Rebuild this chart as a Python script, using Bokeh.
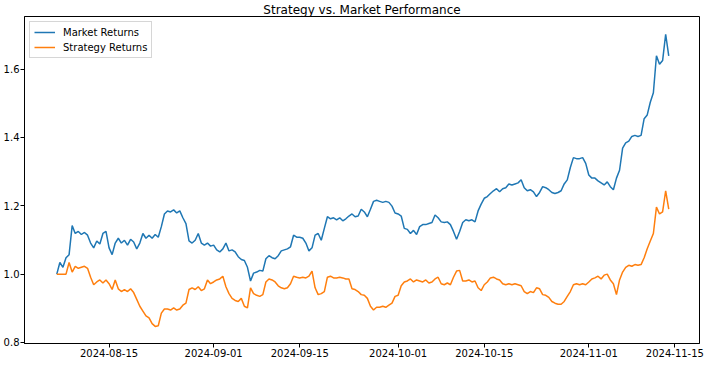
import pandas as pd
from bokeh.plotting import figure
from bokeh.models import (Range1d, FixedTicker, DatetimeTickFormatter, NumeralTickFormatter,
                          Legend, LegendItem, ColumnDataSource)
from bokeh.embed import file_html
from bokeh.resources import INLINE

# ---- data (12-hour samples) ----
start_time = "2024-08-06 12:00"
step = "12h"

market = [
    1.000, 1.034, 1.020, 1.048, 1.057, 1.142, 1.119, 1.125, 1.116, 1.122,
    1.114, 1.091, 1.077, 1.097, 1.088, 1.119, 1.125, 1.077, 1.057, 1.091,
    1.105, 1.091, 1.099, 1.085, 1.102, 1.094, 1.074, 1.091, 1.119, 1.105,
    1.114, 1.105, 1.116, 1.108, 1.139, 1.176, 1.185, 1.182, 1.188, 1.179,
    1.185, 1.165, 1.148, 1.097, 1.091, 1.099, 1.119, 1.091, 1.085, 1.091,
    1.082, 1.085, 1.071, 1.065, 1.074, 1.091, 1.068, 1.071, 1.065, 1.051,
    1.043, 1.040, 1.020, 0.980, 1.003, 1.006, 1.011, 1.009, 1.045, 1.054,
    1.048, 1.045, 1.054, 1.068, 1.071, 1.074, 1.080, 1.114, 1.108, 1.108,
    1.105, 1.091, 1.068, 1.077, 1.114, 1.119, 1.099, 1.134, 1.168, 1.162,
    1.165, 1.159, 1.165, 1.156, 1.162, 1.170, 1.176, 1.168, 1.170, 1.190,
    1.182, 1.168, 1.190, 1.213, 1.216, 1.213, 1.210, 1.213, 1.210, 1.199,
    1.179, 1.176, 1.170, 1.134, 1.131, 1.119, 1.128, 1.116, 1.139, 1.145,
    1.145, 1.148, 1.151, 1.173, 1.165, 1.153, 1.151, 1.153, 1.145, 1.125,
    1.102, 1.125, 1.151, 1.159, 1.156, 1.159, 1.153, 1.185, 1.205, 1.222,
    1.227, 1.236, 1.244, 1.250, 1.241, 1.250, 1.253, 1.264, 1.261, 1.264,
    1.267, 1.276, 1.253, 1.244, 1.247, 1.241, 1.227, 1.239, 1.256, 1.253,
    1.247, 1.239, 1.236, 1.239, 1.244, 1.264, 1.276, 1.312, 1.341, 1.338,
    1.338, 1.341, 1.324, 1.290, 1.281, 1.281, 1.273, 1.267, 1.261, 1.270,
    1.256, 1.247, 1.281, 1.304, 1.369, 1.384, 1.389, 1.403, 1.406, 1.403,
    1.406, 1.455, 1.466, 1.503, 1.531, 1.639, 1.614, 1.625, 1.702, 1.639,
]

strategy = [
    1.000, 1.000, 1.000, 1.000, 1.034, 1.006, 1.023, 1.017, 1.020, 1.023,
    1.017, 0.991, 0.969, 0.977, 0.983, 0.974, 0.983, 0.972, 0.955, 0.983,
    0.957, 0.949, 0.955, 0.949, 0.957, 0.946, 0.926, 0.906, 0.892, 0.878,
    0.872, 0.855, 0.847, 0.849, 0.886, 0.898, 0.898, 0.895, 0.901, 0.895,
    0.898, 0.909, 0.915, 0.955, 0.960, 0.955, 0.963, 0.952, 0.957, 0.983,
    0.972, 0.977, 0.983, 0.986, 0.994, 0.963, 0.943, 0.929, 0.923, 0.920,
    0.929, 0.906, 0.901, 0.960, 0.943, 0.938, 0.935, 0.940, 0.977, 0.986,
    0.983, 0.977, 0.966, 0.960, 0.957, 0.960, 0.972, 0.994, 0.991, 0.989,
    0.991, 0.989, 0.994, 1.009, 0.960, 0.940, 0.943, 0.949, 0.991, 0.994,
    0.989, 0.989, 0.991, 0.989, 0.986, 0.986, 0.957, 0.955, 0.949, 0.940,
    0.938, 0.929, 0.906, 0.895, 0.903, 0.903, 0.906, 0.903, 0.909, 0.915,
    0.935, 0.938, 0.966, 0.977, 0.980, 0.986, 0.977, 0.983, 0.980, 0.977,
    0.983, 0.974, 0.977, 0.986, 0.991, 0.972, 0.969, 0.974, 0.969, 0.991,
    1.009, 1.011, 0.980, 0.980, 0.983, 0.977, 0.980, 0.960, 0.952, 0.969,
    0.977, 0.989, 0.991, 0.986, 0.983, 0.972, 0.969, 0.972, 0.969, 0.972,
    0.969, 0.966, 0.949, 0.943, 0.949, 0.946, 0.960, 0.957, 0.940, 0.938,
    0.932, 0.920, 0.915, 0.912, 0.912, 0.920, 0.935, 0.949, 0.969, 0.972,
    0.969, 0.972, 0.969, 0.977, 0.986, 0.989, 0.994, 0.986, 0.997, 1.000,
    0.983, 0.972, 0.940, 0.983, 1.006, 1.020, 1.026, 1.023, 1.028, 1.026,
    1.028, 1.048, 1.074, 1.097, 1.119, 1.196, 1.176, 1.182, 1.244, 1.190,
]

x_tick_labels = ["2024-08-15", "2024-09-01", "2024-09-15", "2024-10-01",
                 "2024-10-15", "2024-11-01", "2024-11-15"]
y_ticks = [0.8, 1.0, 1.2, 1.4, 1.6]

title_text = "Strategy vs. Market Performance"
series_labels = ["Market Returns", "Strategy Returns"]

# ---- build ----
dates = pd.date_range(start_time, periods=len(market), freq=step)
src = ColumnDataSource(dict(date=dates, market=market, strategy=strategy))

x_range = Range1d(pd.Timestamp("2024-08-01 06:00"), pd.Timestamp("2024-11-19 00:00"))
y_range = Range1d(0.797, 1.754)

FONT = "DejaVu Sans"

p = figure(width=706, height=359, x_axis_type="datetime",
           x_range=x_range, y_range=y_range,
           output_backend="svg", toolbar_location=None,
           min_border_left=24, min_border_right=7, min_border_top=0, min_border_bottom=0)

p.title.text = title_text
p.title.text_font = FONT
p.title.text_font_size = "12px"
p.title.text_font_style = "normal"
p.title.text_color = "#000000"
p.title.align = "center"
p.title.standoff = 0
p.title.text_line_height = 1.0

r1 = p.line("date", "market", source=src, line_color="#1f77b4", line_width=1.5)
r2 = p.line("date", "strategy", source=src, line_color="#ff7f0e", line_width=1.5)

p.xgrid.visible = False
p.ygrid.visible = False
p.background_fill_color = "white"
p.border_fill_color = "white"
p.outline_line_color = "black"
p.outline_line_width = 1
p.outline_line_alpha = 1

tick_ms = [pd.Timestamp(d).value // 10**6 for d in x_tick_labels]
p.xaxis.ticker = FixedTicker(ticks=tick_ms)
fmt = "%Y-%m-%d"
p.xaxis.formatter = DatetimeTickFormatter(
    milliseconds=fmt, seconds=fmt, minsec=fmt, minutes=fmt, hourmin=fmt,
    hours=fmt, days=fmt, months=fmt, years=fmt)
p.yaxis.ticker = FixedTicker(ticks=y_ticks)
p.yaxis.formatter = NumeralTickFormatter(format="0.0")

for ax in (p.xaxis[0], p.yaxis[0]):
    ax.axis_label = None
    ax.axis_label_standoff = 0
    ax.major_label_text_font = FONT
    ax.major_label_text_font_size = "10px"
    ax.major_label_text_color = "#000000"
    ax.major_label_text_line_height = 1.0
    ax.axis_line_color = "black"
    ax.major_tick_line_color = "black"
    ax.major_tick_out = 4
    ax.major_tick_in = 0
    ax.minor_tick_out = 0
    ax.minor_tick_in = 0
    ax.major_label_standoff = 1

legend = Legend(items=[LegendItem(label=series_labels[0], renderers=[r1]),
                       LegendItem(label=series_labels[1], renderers=[r2])],
                location="top_left")
legend.label_text_font = FONT
legend.label_text_font_size = "10px"
legend.label_text_color = "#000000"
legend.border_line_color = "#cccccc"
legend.border_line_alpha = 0.8
legend.background_fill_alpha = 0.8
legend.glyph_width = 21
legend.glyph_height = 12
legend.label_height = 12
legend.label_standoff = 8
legend.spacing = 3
legend.padding = 4
legend.margin = 5
p.add_layout(legend)

open("out.html", "w").write(file_html(p, INLINE))
